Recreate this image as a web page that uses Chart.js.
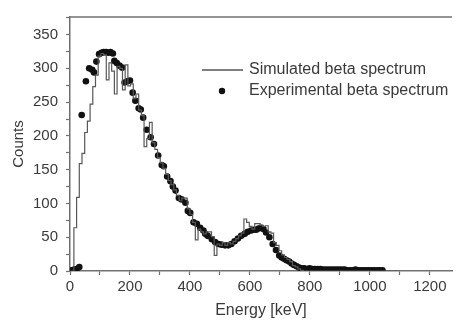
<!DOCTYPE html>
<html>
<head>
<meta charset="utf-8">
<script src="https://cdn.jsdelivr.net/npm/chart.js@4/dist/chart.umd.min.js"></script>
<style>
  html, body { margin: 0; padding: 0; background: #fff; }
  #wrap { width: 456px; height: 320px; }
</style>
</head>
<body>
<div id="wrap"><canvas id="chart" width="456" height="320"></canvas></div>
<script>
// Simulated spectrum: histogram bin starts (keV) and counts per bin
const simEnergy = [4, 13, 22, 31, 40, 49, 58, 67, 76, 85, 94, 103, 112, 121, 130, 139, 148, 157, 166, 175,
  184, 193, 202, 211, 220, 229, 238, 247, 256, 265, 274, 283, 292, 301, 310, 319, 328, 337, 346, 355,
  364, 373, 382, 391, 400, 409, 418, 427, 436, 445, 454, 463, 472, 481, 490, 499, 508, 517, 526, 535,
  544, 553, 562, 571, 580, 589, 598, 607, 616, 625, 634, 643, 652, 661, 670, 679, 688, 697, 706, 715,
  724, 733, 742, 751, 760, 769, 778, 1100];
const simCounts = [0, 64, 109, 159, 174, 205, 222, 247, 273, 290, 318, 322, 320, 283, 308, 296, 262, 303, 300, 268,
  305, 274, 277, 255, 262, 238, 230, 184, 196, 220, 190, 180, 168, 160, 152, 143, 134, 128, 120, 112,
  104, 108, 108, 92, 84, 72, 46, 62, 58, 55, 58, 58, 51, 23, 40, 38, 42, 38, 42, 40,
  44, 48, 52, 56, 77, 72, 66, 62, 70, 70, 68, 66, 67, 58, 56, 42, 38, 30, 24, 20,
  17, 14, 8, 6, 3, 1, 0, 0];

// Experimental spectrum: measured points
const expEnergy = [5, 14, 22, 31, 39, 53, 64, 74, 80, 88, 97, 105, 112, 120, 128, 135, 143, 148, 156, 165,
  174, 182, 192, 200, 209, 218, 229, 236, 244, 256, 269, 280, 294, 306, 313, 324, 335, 343, 352, 363,
  372, 385, 393, 401, 412, 423, 434, 445, 451, 459, 473, 484, 495, 505, 517, 528, 538, 549, 560, 571,
  583, 593, 604, 613, 621, 629, 637, 645, 654, 665, 676, 687, 698, 706, 714, 722, 731, 739, 747, 756,
  764, 772, 781, 790, 799, 808, 817, 826, 835, 844, 853, 862, 871, 880, 889, 898, 907, 916, 925, 934,
  943, 952, 961, 970, 979, 988, 997, 1006, 1015, 1024, 1033, 1042];
const expCounts = [1, 2, 3, 6, 231, 281, 300, 298, 294, 310, 321, 323, 324, 324, 323, 324, 322, 311, 308, 304,
  301, 279, 281, 282, 264, 252, 241, 239, 227, 209, 198, 188, 171, 157, 155, 140, 133, 125, 119, 108,
  106, 101, 89, 86, 72, 70, 64, 60, 55, 52, 47, 43, 40, 39, 38, 38, 40, 44, 48, 52,
  55, 58, 60, 61, 61, 63, 64, 62, 57, 50, 40, 31, 23, 20, 18, 16, 14, 11, 9, 7,
  5, 4, 4, 3, 4, 3, 3, 3, 3, 2, 2, 2, 2, 2, 2, 2, 2, 2, 1, 1,
  1, 2, 1, 1, 1, 1, 1, 1, 1, 1, 1, 1];

const xTickLabels = [0, 200, 400, 600, 800, 1000, 1200];
const yTickLabels = [0, 50, 100, 150, 200, 250, 300, 350];
const legendLabels = ['Simulated beta spectrum', 'Experimental beta spectrum'];

const textColor = '#3a3a3a';
const axisColor = '#707070';
const fontFamily = '"Liberation Sans", Arial, sans-serif';

// top frame line + legend drawn inside the plot
const framePlugin = {
    id: 'frame',
    afterDraw: function (chart) {
        const ctx = chart.ctx;
        const area = chart.chartArea;
        ctx.save();
        ctx.strokeStyle = axisColor;
        ctx.lineWidth = 1.5;
        ctx.beginPath();
        ctx.moveTo(area.left, area.top);
        ctx.lineTo(area.right, area.top);
        ctx.stroke();

        ctx.font = '16px ' + fontFamily;
        ctx.fillStyle = textColor;
        ctx.textBaseline = 'middle';
        ctx.textAlign = 'left';
        ctx.strokeStyle = '#555';
        ctx.lineWidth = 1.3;
        ctx.beginPath();
        ctx.moveTo(202, 70);
        ctx.lineTo(243, 70);
        ctx.stroke();
        ctx.fillText(legendLabels[0], 249, 70);
        ctx.fillStyle = '#111';
        ctx.beginPath();
        ctx.arc(222, 91, 3.2, 0, Math.PI * 2);
        ctx.fill();
        ctx.fillStyle = textColor;
        ctx.fillText(legendLabels[1], 249, 91);
        ctx.restore();
    }
};

new Chart(document.getElementById('chart'), {
    type: 'scatter',
    data: {
        datasets: [{
            type: 'line',
            label: legendLabels[0],
            data: simEnergy.map(function (e, i) { return { x: e, y: simCounts[i] }; }),
            borderColor: '#585858',
            borderWidth: 1.2,
            stepped: true,
            pointRadius: 0,
            fill: false
        }, {
            label: legendLabels[1],
            data: expEnergy.map(function (e, i) { return { x: e, y: expCounts[i] }; }),
            backgroundColor: '#111',
            borderColor: '#111',
            pointRadius: 3.3,
            pointBorderWidth: 0
        }]
    },
    options: {
        responsive: false,
        animation: false,
        layout: { padding: { top: 13, right: 0, left: 0, bottom: 0 } },
        plugins: {
            legend: { display: false },
            tooltip: { enabled: false }
        },
        scales: {
            x: {
                type: 'linear',
                min: 0,
                max: 1274,
                afterFit: function (s) { s.height = 49; },
                border: { display: true, color: axisColor, width: 1.5 },
                grid: { drawOnChartArea: false, tickLength: 4, color: axisColor, tickWidth: 1.2 },
                ticks: {
                    stepSize: 100,
                    includeBounds: false,
                    maxRotation: 0,
                    autoSkip: false,
                    padding: 3,
                    color: textColor,
                    font: { family: fontFamily, size: 15 },
                    callback: function (v) { return xTickLabels.indexOf(v) >= 0 ? String(v) : ''; }
                },
                title: {
                    display: true,
                    text: 'Energy [keV]',
                    color: textColor,
                    font: { family: fontFamily, size: 16 },
                    padding: { top: 0, bottom: 0 }
                }
            },
            y: {
                min: 0,
                max: 376,
                afterFit: function (s) { s.width = 70; },
                border: { display: true, color: axisColor, width: 1.5 },
                grid: { drawOnChartArea: false, tickLength: 4, color: axisColor, tickWidth: 1.2 },
                ticks: {
                    stepSize: 25,
                    includeBounds: false,
                    autoSkip: false,
                    padding: 8,
                    color: textColor,
                    font: { family: fontFamily, size: 15 },
                    callback: function (v) { return yTickLabels.indexOf(v) >= 0 ? String(v) : ''; }
                },
                title: {
                    display: true,
                    text: 'Counts',
                    color: textColor,
                    font: { family: fontFamily, size: 15 },
                    padding: { top: 10, bottom: 0 }
                }
            }
        }
    },
    plugins: [framePlugin]
});
</script>
</body>
</html>
